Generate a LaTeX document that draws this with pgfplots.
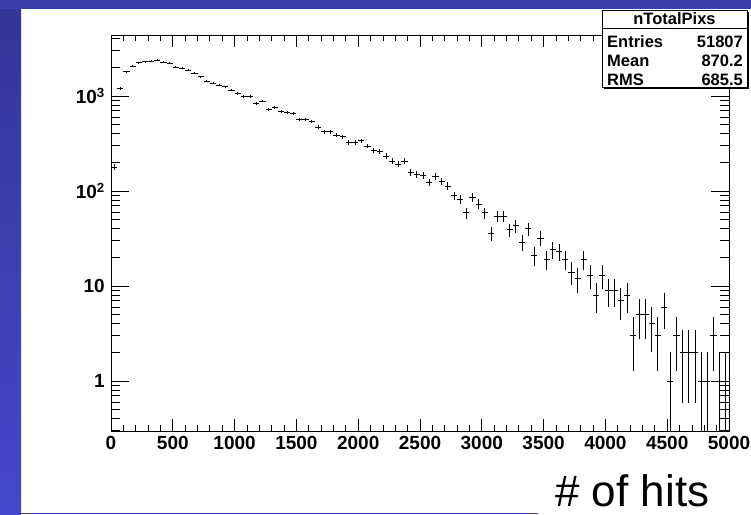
\documentclass[border=0pt]{standalone}
\usepackage{fontspec}
\setmainfont{Liberation Sans}
\usepackage{pgfplots}
\pgfplotsset{compat=1.18}
\usepackage{pgfplotstable}
\definecolor{slideblue}{RGB}{58,62,172}
\definecolor{slidebluetop}{RGB}{50,54,150}
\definecolor{slidebluebot}{RGB}{68,72,204}
\pgfplotstableread{
x y
25 178
75 1205
125 1803
175 2070
225 2243
275 2297
325 2335
375 2375
425 2264
475 2210
525 2005
575 1955
625 1878
675 1734
725 1597
775 1438
825 1360
875 1306
925 1253
975 1156
1025 1067
1075 984
1125 984
1175 838
1225 886
1275 724
1325 760
1375 684
1425 667
1475 658
1525 569
1575 569
1625 537
1675 468
1725 421
1775 421
1825 388
1875 373
1925 325
1975 325
2025 338
2075 298
2125 266
2175 259
2225 233
2275 207
2325 191
2375 207
2425 157
2475 151
2525 147
2575 123
2625 144
2675 127
2725 113
2775 89
2825 82
2875 59
2925 85
2975 73
3025 59
3075 36
3125 54
3175 54
3225 39
3275 43
3325 29
3375 40
3425 21
3475 32
3525 19
3575 24
3625 23
3675 19
3725 14
3775 12
3825 19
3875 13
3925 8
3975 13
4025 9
4075 9
4125 7
4175 8
4225 3
4275 5
4325 5
4375 4
4425 3
4475 6
4525 1
4575 3
4625 2
4675 2
4725 2
4775 1
4825 1
4875 3
4925 1
4975 1
}\hitsdata
\begin{document}
\begin{tikzpicture}
\fill[white] (0pt,0pt) rectangle (751pt,514pt);
\shade[top color=slidebluetop, bottom color=slidebluebot] (0pt,0pt) rectangle (21pt,514pt);
\fill[slideblue] (0pt,505pt) rectangle (751pt,514pt);
\fill[slideblue] (21pt,0pt) rectangle (538pt,1.5pt);
\begin{axis}[
  scale only axis, width=618pt, height=396pt,
  at={(111pt,83pt)}, anchor=south west,
  xmin=0, xmax=5000, ymode=log, ymin=0.298, ymax=4385,
  axis line style={black, line width=0.9pt},
  tick align=inside,
  xtick=\empty,
  ytick={1,10,100,1000},
  yticklabels={1,10,10\textsuperscript{2},10\textsuperscript{3}},
  minor ytick={0.3,0.4,0.5,0.6,0.7,0.8,0.9,2,3,4,5,6,7,8,9,20,30,40,50,60,70,80,90,200,300,400,500,600,700,800,900,2000,3000,4000},
  ytick pos=both, yticklabel pos=left,
  major tick length=18pt, minor tick length=9pt,
  tick style={black, line width=0.8pt},
  yticklabel style={font=\fontsize{19}{19}\selectfont\bfseries, anchor=east, inner sep=0pt, xshift=-6pt},
]
\addplot[draw=none, mark=none,
  error bars/.cd, y dir=both, y explicit, x dir=both, x fixed=25, error mark=none,
  error bar style={draw=black, line width=0.9pt}]
 table[x=x, y=y, y error plus expr={sqrt(\thisrow{y})}, y error minus expr={min(sqrt(\thisrow{y}),0.999*\thisrow{y})}] {\hitsdata};
\end{axis}
\begin{axis}[
  scale only axis, width=618pt, height=396pt,
  at={(111pt,83pt)}, anchor=south west,
  xmin=0, xmax=5000, ymin=0, ymax=1,
  axis line style={draw=none},
  tick align=inside, ytick=\empty,
  xtick={0,500,1000,1500,2000,2500,3000,3500,4000,4500,5000},
  xticklabels={0,500,1000,1500,2000,2500,3000,3500,4000,4500,5000},
  minor x tick num=4,
  xtick pos=both, xticklabel pos=lower,
  major tick length=12pt, minor tick length=6pt,
  tick style={black, line width=0.8pt},
  xticklabel style={font=\fontsize{19}{19}\selectfont\bfseries, anchor=north, inner sep=0pt, yshift=-5pt},
]
\end{axis}
% stats box
\fill[black] (604pt,425pt) rectangle (749pt,502pt);
\filldraw[fill=white, draw=black, line width=0.9pt] (602pt,427pt) rectangle (747pt,504pt);
\draw[line width=0.9pt] (602pt,486pt) -- (747pt,486pt);
\node[font=\fontsize{16.5}{16.5}\selectfont\bfseries, inner sep=0pt] at (674.5pt,495pt) {nTotalPixs};
\node[anchor=base west, inner sep=0pt, font=\fontsize{16.5}{16.5}\selectfont\bfseries] at (607pt,466.4pt) {Entries};
\node[anchor=base east, inner sep=0pt, font=\fontsize{16.5}{16.5}\selectfont\bfseries] at (743pt,466.4pt) {51807};
\node[anchor=base west, inner sep=0pt, font=\fontsize{16.5}{16.5}\selectfont\bfseries] at (607pt,447.4pt) {Mean};
\node[anchor=base east, inner sep=0pt, font=\fontsize{16.5}{16.5}\selectfont\bfseries] at (743pt,447.4pt) {870.2};
\node[anchor=base west, inner sep=0pt, font=\fontsize{16.5}{16.5}\selectfont\bfseries] at (607pt,428.1pt) {RMS};
\node[anchor=base east, inner sep=0pt, font=\fontsize{16.5}{16.5}\selectfont\bfseries] at (743pt,428.1pt) {685.5};
\node[anchor=base west, inner sep=0pt, font=\fontsize{44}{44}\selectfont] at (555pt,8pt) {\# of hits};
\end{tikzpicture}
\end{document}
